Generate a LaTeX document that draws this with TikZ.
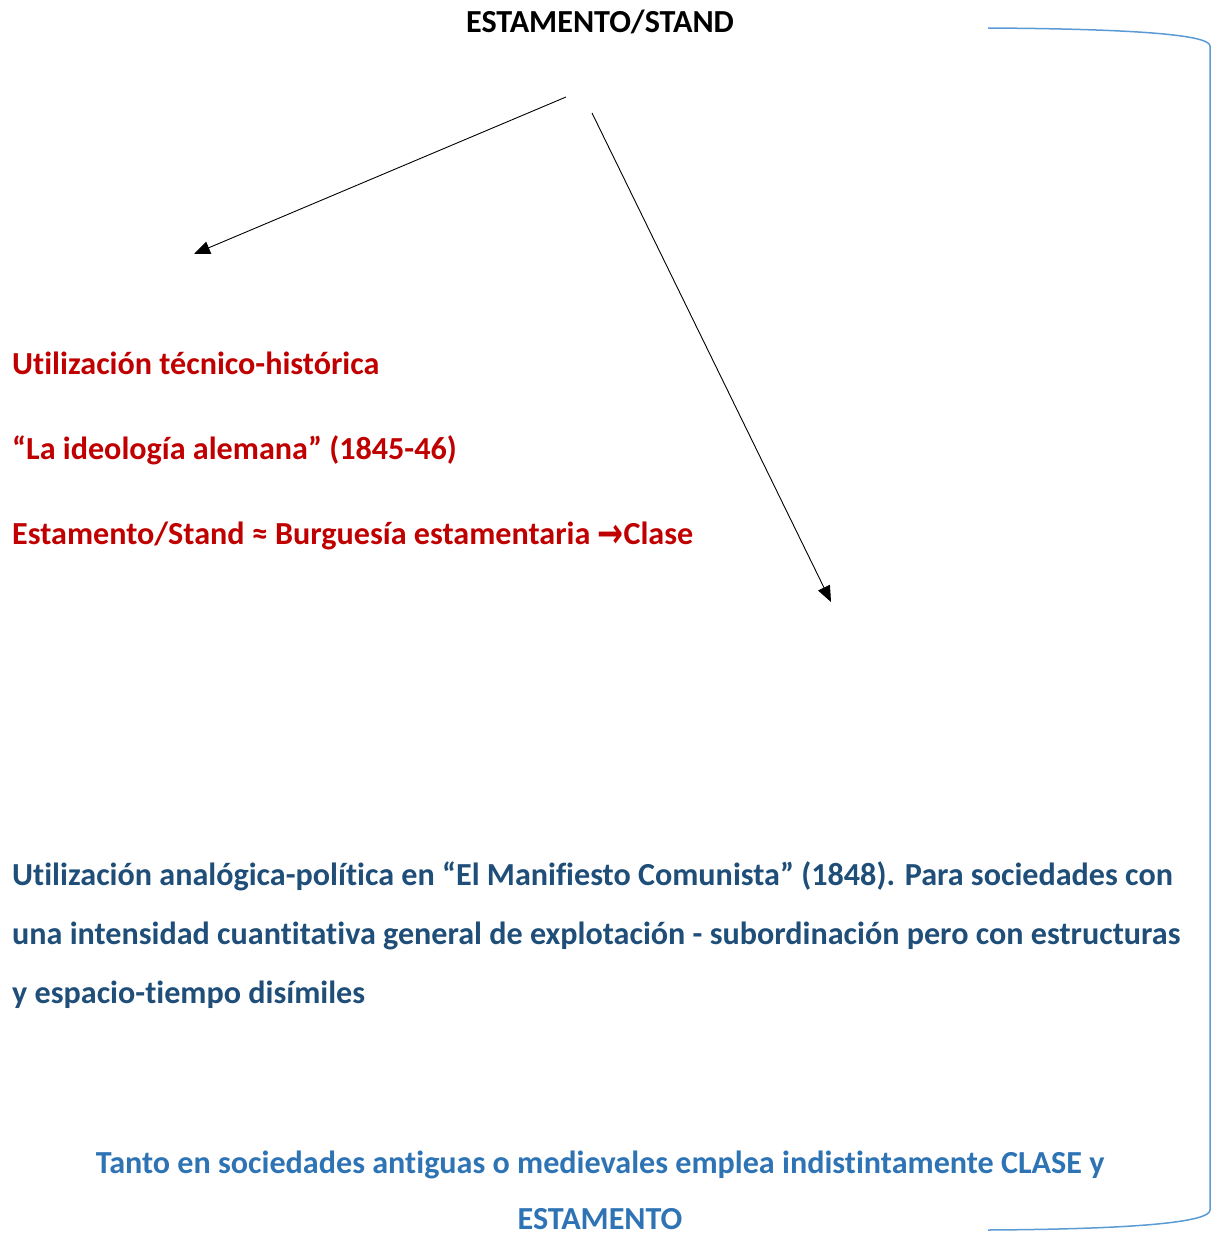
\documentclass[tikz,border=0pt]{standalone}
\usepackage{graphicx}
\usepackage{fontspec}
\setmainfont[Ligatures=NoCommon]{Carlito}
\newfontfamily\arrowfont{DejaVu Sans}
\usetikzlibrary{arrows.meta}
\definecolor{redtxt}{HTML}{C00000}
\definecolor{darkblue}{HTML}{1F4E79}
\definecolor{midblue}{HTML}{2E74B5}
\definecolor{brackblue}{HTML}{5B9BD5}
\newlength\calibwd
\begin{document}
\settowidth\calibwd{\fontsize{10pt}{12pt}\selectfont\bfseries una intensidad cuantitativa general de explotación - subordinación pero con estructuras}%
\pgfmathsetmacro\fszval{10*1168/\calibwd}%
\pgfmathsetmacro\arrsz{0.92*\fszval}%
\def\fsz{\fontsize{\fszval pt}{40pt}\selectfont}%
\def\arrfsz{\fontsize{\arrsz pt}{40pt}\selectfont}%
\begin{tikzpicture}[x=1pt,y=-1pt,
  txt/.style={inner sep=0pt,anchor=base west,font=\fsz\bfseries},
  ctxt/.style={inner sep=0pt,anchor=base,font=\fsz\bfseries},
  conn/.style={line width=0.9pt,-{Triangle[length=16pt,width=13pt]}}]
\useasboundingbox (0,0) rectangle (1213,1233);
\node[ctxt] (title) at (600,33) {ESTAMENTO/STAND};
\coordinate (s1) at (566,97);
\coordinate (e1) at (194,254);
\coordinate (s2) at (592,113);
\coordinate (e2) at (831,602);
\draw[conn] (s1) -- (e1);
\draw[conn] (s2) -- (e2);
\node[txt,text=redtxt] (r1) at (12,374) {Utilización técnico-histórica};
\node[txt,text=redtxt] (r2) at (12,459) {“La ideología alemana” (1845-46)};
\node[txt,text=redtxt] (r3) at (12,544) {Estamento/Stand ≈ Burguesía estamentaria {\arrowfont\arrfsz\bfseries\raisebox{-3pt}{\scalebox{1.05}[1.4]{→}}}Clase};
\node[txt,text=darkblue] (b1) at (12,885) {Utilización analógica-política en “El Manifiesto Comunista” (1848). Para sociedades con};
\node[txt,text=darkblue] (b2) at (12,944) {una intensidad cuantitativa general de explotación - subordinación pero con estructuras};
\node[txt,text=darkblue] (b3) at (12,1003) {y espacio-tiempo disímiles};
\node[ctxt,text=midblue] (m1) at (600,1173) {Tanto en sociedades antiguas o medievales emplea indistintamente CLASE y};
\node[ctxt,text=midblue] (m2) at (600,1229) {ESTAMENTO};
\draw[brackblue,line width=1.5pt] (988,28) .. controls (1150,29) and (1210,36) .. (1210,46) -- (1210,1210) .. controls (1210,1221) and (1150,1229) .. (988,1230);
\end{tikzpicture}
\end{document}
